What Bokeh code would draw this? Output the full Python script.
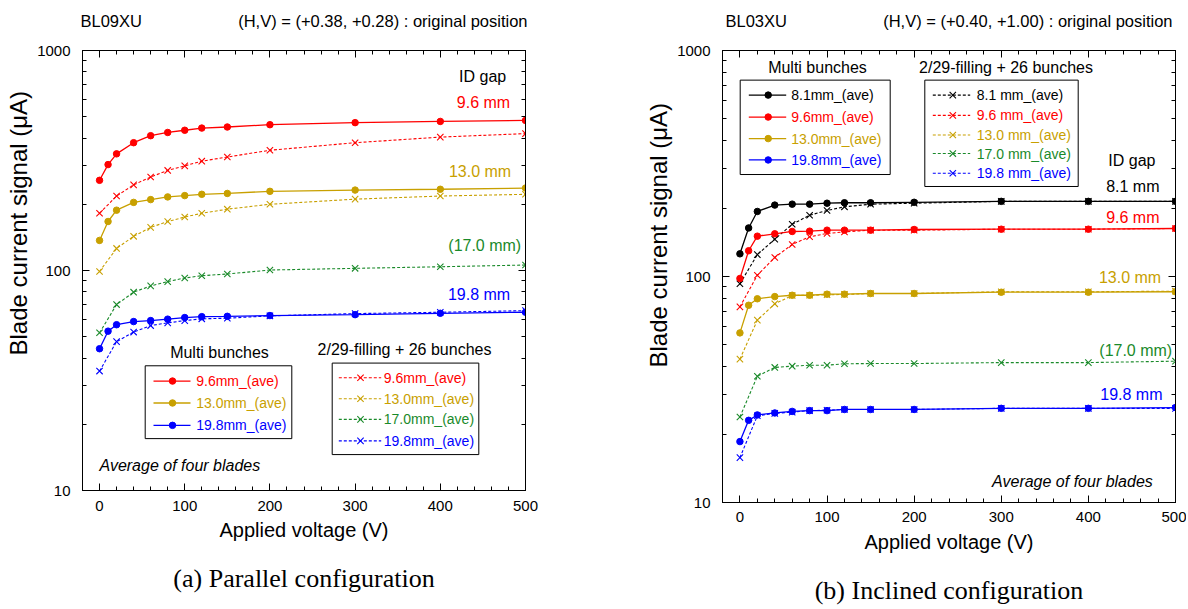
import math
from bokeh.plotting import figure
from bokeh.layouts import row
from bokeh.models import (LinearAxis, LogAxis, Range1d, FixedTicker, SingleIntervalTicker,
                          PrintfTickFormatter, Label, Title)
from bokeh.embed import file_html
from bokeh.resources import INLINE

# ---------------- data ----------------
V_MULTI = [0, 10, 20, 40, 60, 80, 100, 120, 150, 200, 300, 400, 500]
V_FILL = [0, 20, 40, 60, 80, 100, 120, 150, 200, 300, 400, 500]

# (a) BL09XU, parallel configuration
A_MB_96 = [257, 303, 339, 381, 410, 424, 434, 444, 449, 460, 470, 476, 481]
A_MB_130 = [137, 167, 188, 204, 210, 216, 219, 222, 224, 229, 232, 234, 237]
A_MB_198 = [44.1, 53.0, 56.7, 58.6, 59.2, 60.1, 61.1, 61.7, 61.9, 62.4, 63.0, 63.9, 64.6]
A_FB_96 = [182, 218, 245, 266, 285, 299, 314, 328, 352, 381, 404, 419]
A_FB_130 = [99, 126, 143, 157, 167, 175, 182, 190, 200, 211, 218, 222]
A_FB_170 = [52.1, 70.0, 79.7, 85.1, 89.0, 92.5, 94.7, 96.4, 100.5, 102.3, 104.0, 105.9]
A_FB_198 = [34.9, 47.5, 52.5, 56.2, 57.8, 59.2, 60.3, 60.7, 62.2, 63.7, 64.6, 65.7]

# (b) BL03XU, inclined configuration
B_MB_81 = [126, 164, 194, 207, 209, 209, 211, 212, 212, 213, 215, 215, 215]
B_MB_96 = [98, 130, 150.8, 154.5, 158.2, 158.7, 160.3, 160.3, 160.3, 161.4, 161.9, 161.9, 163.1]
B_MB_130 = [56.3, 74.6, 79.7, 81.5, 82.6, 82.6, 83.5, 83.5, 84.1, 84.1, 85.2, 85.2, 85.6]
B_MB_198 = [18.6, 23.1, 24.4, 24.9, 25.3, 25.5, 25.5, 25.8, 25.8, 25.8, 26.1, 26.1, 26.3]
B_FB_81 = [92.9, 125, 146.2, 170.3, 186.7, 195.9, 203.4, 208.9, 211, 215, 215, 215]
B_FB_96 = [73.4, 101.3, 121.4, 138.6, 149.9, 155, 157.6, 160.3, 160.3, 161.9, 161.9, 163.1]
B_FB_130 = [43.1, 64.1, 75.7, 82.4, 82.6, 83.0, 83.3, 84.1, 84.1, 85.6, 85.6, 86.1]
B_FB_170 = [23.9, 36.2, 39.6, 40.1, 40.5, 40.5, 41.1, 41.2, 41.2, 41.6, 41.6, 42.2]
B_FB_198 = [15.8, 24.2, 24.8, 25.1, 25.5, 25.6, 25.8, 25.8, 25.8, 26.1, 26.1, 26.1]

X_TICKS_INTERVAL = 100
Y_MAJOR = [10, 100, 1000]
Y_MINOR = [20, 30, 40, 50, 60, 70, 80, 90, 200, 300, 400, 500, 600, 700, 800, 900]

C_BLACK = "#000000"
C_RED = "#ff0000"
C_GOLD = "#c8a000"
C_GREEN = "#1a8a2a"
C_BLUE = "#0000ff"

SANS = "Liberation Sans"
SERIF = "Liberation Serif"
NB = "\u00a0"
HAS_STANDOFF = "standoff" in Title.properties()


def coords(L, R, T, B):
    def X(px):
        return -20 + (px - L) / (R - L) * 520

    def Y(py):
        return 10 ** (3 - 2 * (py - T) / (B - T))
    return X, Y


def make_fig(width, height, bl, br, bt, bb, tick_standoff, label_standoff,
             top_text, caption, ylabel_offset):
    p = figure(width=width, height=height, x_range=Range1d(-20, 500), y_range=Range1d(10, 1000),
               y_axis_type="log", output_backend="svg", toolbar_location=None,
               min_border_left=bl, min_border_right=br, min_border_top=bt, min_border_bottom=bb)
    p.xgrid.visible = False
    p.ygrid.visible = False
    p.outline_line_color = "black"
    p.outline_line_width = 1
    p.background_fill_color = "white"
    p.border_fill_color = "white"

    def style(ax):
        ax.axis_line_color = "black"
        ax.major_tick_line_color = "black"
        ax.minor_tick_line_color = "black"
        ax.major_tick_in = 7
        ax.major_tick_out = 0
        ax.minor_tick_in = 4
        ax.minor_tick_out = 0
        ax.major_label_text_font = SANS
        ax.major_label_text_font_size = "15px"
        ax.major_label_text_color = "black"

    xa = p.xaxis[0]
    xa.ticker = SingleIntervalTicker(interval=X_TICKS_INTERVAL, num_minor_ticks=5)
    style(xa)
    xa.major_label_standoff = tick_standoff
    xa.axis_label = "Applied voltage (V)"
    xa.axis_label_text_font = SANS
    xa.axis_label_text_font_size = "20px"
    xa.axis_label_text_font_style = "normal"
    xa.axis_label_text_color = "black"
    xa.axis_label_standoff = label_standoff

    ya = p.yaxis[0]
    ya.ticker = FixedTicker(ticks=Y_MAJOR, minor_ticks=Y_MINOR)
    ya.formatter = PrintfTickFormatter(format="%d")
    style(ya)
    ya.major_label_standoff = 12

    # top axis: inward ticks, carries the header line as its label
    top = LinearAxis(ticker=SingleIntervalTicker(interval=X_TICKS_INTERVAL, num_minor_ticks=5))
    style(top)
    top.major_label_text_font_size = "2px"
    top.major_label_text_alpha = 0
    top.major_label_standoff = 0
    top.axis_label = top_text
    top.axis_label_text_font = SANS
    top.axis_label_text_font_size = "16.5px"
    top.axis_label_text_font_style = "normal"
    top.axis_label_text_color = "black"
    top.axis_label_standoff = 21
    p.add_layout(top, "above")

    right = LogAxis(ticker=FixedTicker(ticks=Y_MAJOR, minor_ticks=Y_MINOR))
    style(right)
    right.major_label_text_font_size = "2px"
    right.major_label_text_alpha = 0
    right.major_label_standoff = 0
    p.add_layout(right, "right")

    # caption under the x-axis title
    cap = LinearAxis(ticker=FixedTicker(ticks=[]))
    cap.axis_line_color = None
    cap.major_tick_line_color = None
    cap.minor_tick_line_color = None
    cap.major_label_standoff = 0
    cap.major_label_text_font_size = "2px"
    cap.axis_label = caption
    cap.axis_label_text_font = SERIF
    cap.axis_label_text_font_size = "26px"
    cap.axis_label_text_font_style = "normal"
    cap.axis_label_text_color = "black"
    cap.axis_label_standoff = 20
    p.add_layout(cap, "below")

    yt = Title(text="Blade current signal (\u03bcA)", align="left", offset=ylabel_offset,
               text_font=SANS, text_font_size="24px", text_font_style="normal",
               text_color="black")
    if HAS_STANDOFF:
        yt.standoff = 5
    p.add_layout(yt, "left")
    return p


def series(p, xs, ys, color, kind):
    if kind == "solid":
        p.line(xs, ys, line_color=color, line_width=1.3)
        p.scatter(xs, ys, marker="circle", size=6.5, fill_color=color, line_color=color)
    else:
        p.line(xs, ys, line_color=color, line_width=1.1, line_dash="3 2")
        p.scatter(xs, ys, marker="x", size=9, line_color=color, line_width=1.1)


def lab(p, x, y, text, color="black", size="16px", align="left", style="normal", font=SANS):
    p.add_layout(Label(x=x, y=y, text=text, text_color=color, text_font_size=size,
                       text_align=align, text_baseline="middle", text_font_style=style,
                       text_font=font))


def legend_box(p, X, Y, box, ttl, title_pos, items, line_x, mark_x, text_x, kind):
    (l, r, t, b) = box
    p.quad(left=[X(l)], right=[X(r)], top=[Y(t)], bottom=[Y(b)],
           fill_color="white", line_color="black", line_width=1)
    lab(p, X(title_pos[0]), Y(title_pos[1]), ttl, size="16px", align="center")
    for (py, color, text) in items:
        if kind == "solid":
            p.line([X(line_x[0]), X(line_x[1])], [Y(py), Y(py)], line_color=color, line_width=1.3)
            p.scatter([X(mark_x)], [Y(py)], marker="circle", size=6.5, fill_color=color, line_color=color)
        else:
            p.line([X(line_x[0]), X(line_x[1])], [Y(py), Y(py)], line_color=color,
                   line_width=1.1, line_dash="3 2")
            p.scatter([X(mark_x)], [Y(py)], marker="x", size=9, line_color=color, line_width=1.1)
        lab(p, X(text_x), Y(py), text, color=color, size="14px")


# ---------------- (a) ----------------
p1 = make_fig(628, 595, 82, 103, 50, 104, 10, 5,
              "BL09XU" + NB * 21 + "(H,V) = (+0.38, +0.28) : original position",
              "(a) Parallel configuration", 135)
XA, YA = coords(83, 526, 51, 492)
series(p1, V_FILL, A_FB_96, C_RED, "dash")
series(p1, V_FILL, A_FB_130, C_GOLD, "dash")
series(p1, V_FILL, A_FB_170, C_GREEN, "dash")
series(p1, V_FILL, A_FB_198, C_BLUE, "dash")
series(p1, V_MULTI, A_MB_96, C_RED, "solid")
series(p1, V_MULTI, A_MB_130, C_GOLD, "solid")
series(p1, V_MULTI, A_MB_198, C_BLUE, "solid")

legend_box(p1, XA, YA, (145.7, 292.3, 367, 440), "Multi bunches", (220, 354),
           [(382.3, C_RED, "9.6mm_(ave)"), (404.3, C_GOLD, "13.0mm_(ave)"),
            (426.7, C_BLUE, "19.8mm_(ave)")], (154, 191), 173, 196.7, "solid")
legend_box(p1, XA, YA, (332.7, 479.3, 364.3, 456), "2/29-filling + 26 bunches", (405, 350.3),
           [(379, C_RED, "9.6mm_(ave)"), (400, C_GOLD, "13.0mm_(ave)"),
            (420.7, C_GREEN, "17.0mm_(ave)"), (442.3, C_BLUE, "19.8mm_(ave)")],
           (339.3, 381.7), 361, 384.3, "dash")

lab(p1, XA(506.7), YA(76.7), "ID gap", align="right")
lab(p1, XA(510.7), YA(103.3), "9.6 mm", color=C_RED, align="right")
lab(p1, XA(511.7), YA(172), "13.0 mm", color=C_GOLD, align="right")
lab(p1, XA(521.7), YA(246.7), "(17.0 mm)", color=C_GREEN, align="right")
lab(p1, XA(510.7), YA(295.7), "19.8 mm", color=C_BLUE, align="right")
lab(p1, XA(100), YA(467.3), "Average of four blades", style="italic")

# ---------------- (b) ----------------
p2 = make_fig(558, 607, 94, 11, 50, 104, 9, 6,
              "BL03XU" + NB * 21 + "(H,V) = (+0.40, +1.00) : original position",
              "(b) Inclined configuration", 135)
XB, YB = coords(723, 1176, 51, 504)
series(p2, V_FILL, B_FB_81, C_BLACK, "dash")
series(p2, V_FILL, B_FB_96, C_RED, "dash")
series(p2, V_FILL, B_FB_130, C_GOLD, "dash")
series(p2, V_FILL, B_FB_170, C_GREEN, "dash")
series(p2, V_FILL, B_FB_198, C_BLUE, "dash")
series(p2, V_MULTI, B_MB_81, C_BLACK, "solid")
series(p2, V_MULTI, B_MB_96, C_RED, "solid")
series(p2, V_MULTI, B_MB_130, C_GOLD, "solid")
series(p2, V_MULTI, B_MB_198, C_BLUE, "solid")

legend_box(p2, XB, YB, (740.7, 890.7, 80.7, 175.3), "Multi bunches", (818, 67.7),
           [(95.7, C_BLACK, "8.1mm_(ave)"), (117.7, C_RED, "9.6mm_(ave)"),
            (139.3, C_GOLD, "13.0mm_(ave)"), (160.7, C_BLUE, "19.8mm_(ave)")],
           (749.3, 786.7), 768.7, 791.7, "solid")
legend_box(p2, XB, YB, (925.3, 1078.7, 80.7, 187.3), "2/29-filling + 26 bunches", (1006.5, 67.7),
           [(95.7, C_BLACK, "8.1 mm_(ave)"), (116, C_RED, "9.6 mm_(ave)"),
            (135.7, C_GOLD, "13.0 mm_(ave)"), (154.3, C_GREEN, "17.0 mm_(ave)"),
            (174, C_BLUE, "19.8 mm_(ave)")],
           (933.3, 970.7), 953.3, 977.3, "dash")

lab(p2, XB(1156), YB(161.7), "ID gap", align="right")
lab(p2, XB(1160), YB(187.3), "8.1 mm", color=C_BLACK, align="right")
lab(p2, XB(1160), YB(218.3), "9.6 mm", color=C_RED, align="right")
lab(p2, XB(1161.7), YB(279), "13.0 mm", color=C_GOLD, align="right")
lab(p2, XB(1172.7), YB(351.7), "(17.0 mm)", color=C_GREEN, align="right")
lab(p2, XB(1163), YB(396), "19.8 mm", color=C_BLUE, align="right")
lab(p2, XB(1153.3), YB(482.7), "Average of four blades", style="italic", align="right")

layout = row(p1, p2)
open("out.html", "w").write(file_html(layout, INLINE))
